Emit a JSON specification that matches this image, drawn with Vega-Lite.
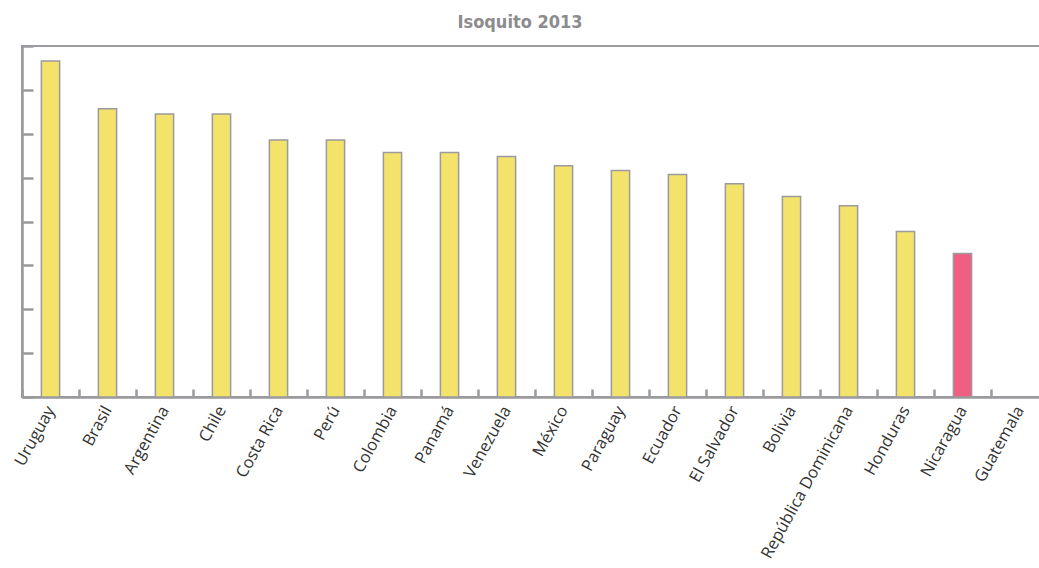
{
  "$schema": "https://vega.github.io/schema/vega-lite/v6.json",
  "autosize": "none",
  "padding": {"left": 22, "top": 46, "right": 0, "bottom": 171},
  "width": 1026,
  "height": 351,
  "title": {"text": "Isoquito 2013", "font": "DejaVu Sans Condensed, Liberation Sans Narrow, Open Sans, sans-serif", "fontSize": 18, "fontWeight": "bold", "color": "#8c8c8f", "anchor": "middle", "frame": "group", "offset": 13, "dx": -15},
  "config": {
    "view": {"stroke": "#9a9a9f", "strokeWidth": 2},
    "axis": {"domainColor": "#9a9a9f", "domainWidth": 2.5, "tickColor": "#9a9a9f", "tickWidth": 2.5, "grid": false, "title": null}
  },
  "data": {"values": [
    {"pais": "Uruguay", "valor": 7.66, "grupo": "otro"},
    {"pais": "Brasil", "valor": 6.57, "grupo": "otro"},
    {"pais": "Argentina", "valor": 6.45, "grupo": "otro"},
    {"pais": "Chile", "valor": 6.45, "grupo": "otro"},
    {"pais": "Costa Rica", "valor": 5.86, "grupo": "otro"},
    {"pais": "Perú", "valor": 5.86, "grupo": "otro"},
    {"pais": "Colombia", "valor": 5.57, "grupo": "otro"},
    {"pais": "Panamá", "valor": 5.57, "grupo": "otro"},
    {"pais": "Venezuela", "valor": 5.48, "grupo": "otro"},
    {"pais": "México", "valor": 5.27, "grupo": "otro"},
    {"pais": "Paraguay", "valor": 5.16, "grupo": "otro"},
    {"pais": "Ecuador", "valor": 5.07, "grupo": "otro"},
    {"pais": "El Salvador", "valor": 4.86, "grupo": "otro"},
    {"pais": "Bolivia", "valor": 4.57, "grupo": "otro"},
    {"pais": "República Dominicana", "valor": 4.36, "grupo": "otro"},
    {"pais": "Honduras", "valor": 3.77, "grupo": "otro"},
    {"pais": "Nicaragua", "valor": 3.27, "grupo": "destacado"},
    {"pais": "Guatemala", "valor": null, "grupo": "otro"}
  ]},
  "mark": {"type": "bar", "stroke": "#9a9a9f", "strokeWidth": 1.5, "width": {"band": 0.32}},
  "encoding": {
    "x": {
      "field": "pais", "type": "nominal", "sort": null,
      "scale": {"domain": ["Uruguay","Brasil","Argentina","Chile","Costa Rica","Perú","Colombia","Panamá","Venezuela","México","Paraguay","Ecuador","El Salvador","Bolivia","República Dominicana","Honduras","Nicaragua","Guatemala"], "paddingInner": 0, "paddingOuter": 0},
      "axis": {"labelAngle": -61, "labelAlign": "right", "labelBaseline": "middle", "labelFont": "Open Sans", "labelFontSize": 16.5, "labelColor": "#333333", "tickBand": "extent", "tickSize": -8, "labelPadding": 18}
    },
    "y": {
      "field": "valor", "type": "quantitative",
      "scale": {"domain": [0, 8], "nice": false},
      "axis": {"values": [0,1,2,3,4,5,6,7,8], "labels": false, "tickSize": -11}
    },
    "color": {"field": "grupo", "type": "nominal", "scale": {"domain": ["otro", "destacado"], "range": ["#F3E36B", "#EF5F82"]}, "legend": null}
  }
}
